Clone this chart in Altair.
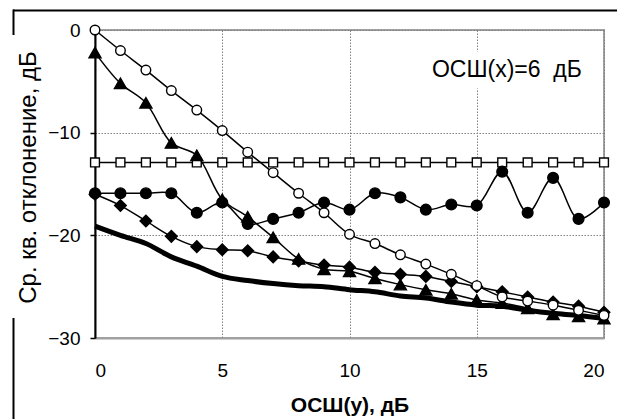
import altair as alt
import pandas as pd

# ОСШ(y), дБ
snr_y = list(range(0, 21))

open_circles = [0.0, -2.0, -3.9, -5.9, -7.8, -9.8, -11.9, -13.9, -15.9, -17.8, -19.9,
                -20.8, -21.9, -22.8, -23.8, -24.9, -26.0, -26.4, -26.8, -27.3, -27.8]
triangles = [-2.2, -5.2, -7.1, -11.0, -12.2, -16.5, -18.2, -20.2, -22.3, -23.3, -23.5,
             -24.2, -24.8, -25.3, -25.7, -26.3, -26.6, -27.1, -27.7, -27.9, -28.1]
squares = [-12.9, -12.9, -12.9, -12.9, -12.9, -12.9, -12.9, -12.9, -12.9, -12.9, -12.9,
           -12.9, -12.9, -12.9, -12.9, -12.9, -12.9, -12.9, -12.9, -12.9, -12.9]
filled_circles = [-15.9, -15.9, -15.9, -15.9, -17.8, -16.8, -18.9, -18.4, -17.8, -16.8, -17.5,
                  -15.9, -16.3, -17.5, -17.0, -17.1, -13.8, -17.8, -14.4, -18.4, -16.8]
diamonds = [-16.0, -17.1, -18.6, -20.1, -21.1, -21.4, -21.5, -22.1, -22.5, -22.9, -23.1,
            -23.6, -23.8, -24.0, -24.5, -25.0, -25.5, -26.0, -26.5, -26.9, -27.5]
bound = [-19.1, -20.0, -20.8, -22.1, -23.0, -24.0, -24.4, -24.7, -24.9, -25.0, -25.3,
         -25.5, -25.9, -26.1, -26.5, -26.8, -26.9, -27.3, -27.6, -27.8, -28.1]

x_ticks = [0, 5, 10, 15, 20]
y_ticks = [-30, -20, -10, 0]
annotation = "ОСШ(x)=6\u00a0\u00a0дБ"

FONT = "Liberation Sans"


def frame(vals):
    return pd.DataFrame({"x": snr_y, "y": vals})


X = alt.X("x:Q", scale=alt.Scale(domain=[0, 20], nice=False, zero=False),
          axis=alt.Axis(values=x_ticks, title="ОСШ(y), дБ", grid=True,
                        gridDash=[1.5, 1.5], gridColor="#808080", gridWidth=1,
                        domainColor="#a0a0a0", domainWidth=2,
                        ticks=False, tickSize=0,
                        labelFont=FONT, labelFontSize=19, labelColor="black",
                        labelBaseline="middle", labelPadding=32,
                        titleFont=FONT, titleFontSize=21, titleFontWeight="bold",
                        titleColor="black", titleY=73.5, titleBaseline="alphabetic"))
Y = alt.Y("y:Q", scale=alt.Scale(domain=[-30, 0], nice=False, zero=False),
          axis=alt.Axis(values=y_ticks, format="d", title="Ср. кв. отклонение, дБ",
                        grid=True, gridDash=[1.5, 1.5], gridColor="#808080", gridWidth=1,
                        domainColor="black", domainWidth=2,
                        tickColor="black", tickSize=5, tickWidth=1.5,
                        labelFont=FONT, labelFontSize=19, labelColor="black",
                        labelPadding=10,
                        titleFont=FONT, titleFontSize=24, titleFontWeight="normal",
                        titleColor="black", titleX=-60, titleY=147,
                        titleBaseline="alphabetic", titleAngle=270))


def series_line(vals, width=1.5):
    return alt.Chart(frame(vals)).mark_line(
        color="black", strokeWidth=width, interpolate="catmull-rom"
    ).encode(x=X, y=Y)


def series_points(vals, shape, fill, size):
    return alt.Chart(frame(vals)).mark_point(
        shape=shape, filled=True, fill=fill, stroke="black", strokeWidth=1.4,
        size=size, opacity=1
    ).encode(x=X, y=Y)


one = pd.DataFrame({"k": [0]})

text_bg = alt.Chart(pd.DataFrame({"x": [13.0], "x2": [19.6], "y": [-2.1], "y2": [-5.7]})).mark_rect(
    color="white").encode(x=X, x2="x2:Q", y=Y, y2="y2:Q")
text = alt.Chart(pd.DataFrame({"x": [13.24], "y": [-4.58], "t": [annotation]})).mark_text(
    font=FONT, fontSize=23, color="black", align="left", baseline="alphabetic"
).encode(x=X, y=Y, text="t:N")

frame_top = alt.Chart(one).mark_rule(color="black", strokeWidth=2).encode(
    x=alt.value(-82), x2=alt.value(530), y=alt.value(-19.5))
frame_left1 = alt.Chart(one).mark_rule(color="black", strokeWidth=2).encode(
    x=alt.value(-81.5), y=alt.value(-20.5), y2=alt.value(5))
frame_left2 = alt.Chart(one).mark_rule(color="black", strokeWidth=2).encode(
    x=alt.value(-81.5), y=alt.value(288), y2=alt.value(400))

chart = alt.layer(
    text_bg,
    series_line(bound, width=5),
    series_line(squares), series_points(squares, "square", "white", 78),
    series_line(filled_circles), series_points(filled_circles, "circle", "black", 115),
    series_line(diamonds), series_points(diamonds, "diamond", "black", 135),
    series_line(triangles), series_points(triangles, "triangle-up", "black", 145),
    series_line(open_circles), series_points(open_circles, "circle", "white", 92),
    text, frame_top, frame_left1, frame_left2,
).properties(
    width=509, height=308, autosize="none",
    padding={"left": 95, "top": 30, "right": 13, "bottom": 81},
    background="white",
).configure_view(stroke="#a0a0a0", strokeWidth=2)

chart.save("out.html", embed_options={"renderer": "svg", "actions": False})
